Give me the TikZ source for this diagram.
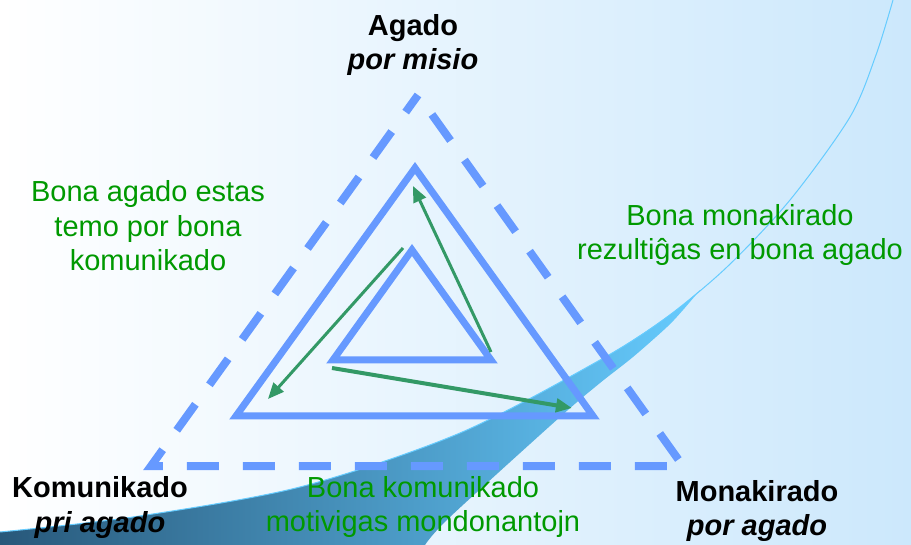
\documentclass[tikz,border=0pt]{standalone}
\usepackage{fontspec}
\setmainfont{Liberation Sans}
\usetikzlibrary{arrows.meta}

\definecolor{triblue}{RGB}{102,153,255}
\definecolor{cyclegreen}{RGB}{51,153,102}
\definecolor{notegreen}{RGB}{0,153,0}
\definecolor{bgblue}{RGB}{204,232,252}
\definecolor{swooshdark}{RGB}{40,88,122}
\definecolor{swooshlight}{RGB}{102,204,255}

\begin{document}
\begin{tikzpicture}[x=0.75pt,y=0.75pt,yscale=-1,xscale=1,
  solidtri/.style={draw=triblue,line width=5.25pt,line join=miter},
  dashtri/.style={draw=triblue,line width=6pt,line join=miter,dash pattern=on 24pt off 18pt,dash phase=8.2pt},
  cyclearrow/.style={draw=cyclegreen,line width=2.25pt,-{Triangle[length=12pt,width=10pt]}},
  corner/.style={font=\bfseries\fontsize{21.75}{26}\selectfont,align=center,inner sep=0pt},
  note/.style={font=\fontsize{21.75}{26}\selectfont,text=notegreen,align=center,inner sep=0pt}]
\useasboundingbox (0,0) rectangle (911,545);

%Shape: Rectangle
\shade [left color=white,right color=bgblue] (0,0) rectangle (911,545);
%Shape: Swoosh
\shade [left color=swooshdark,right color=swooshlight] plot[smooth] coordinates {(0,532) (133,517) (300,487) (460,433) (600,360) (667,317) (700,290)} -- plot[smooth] coordinates {(700,290) (683,310) (667,327) (633,357) (600,383) (560,417) (450,517) (425,545)} -- (0,545) -- cycle ;
%Curve Lines
\draw [color=swooshlight,line width=0.75pt] plot[smooth] coordinates {(0,532) (133,517) (300,487) (460,433) (600,360) (667,317) (727,267) (790,200) (850,117) (876,55) (893,0)} ;

%Shape: Triangle
\draw [dashtri] (418,95) -- (151,466) -- (683,466) -- cycle ;
%Shape: Triangle
\draw [solidtri] (415,168) -- (236,416) -- (593,416) -- cycle ;
%Shape: Triangle
\draw [solidtri] (412,250) -- (333,360) -- (491,360) -- cycle ;

%Straight Lines
\coordinate (monStart) at (491,352) ;
\coordinate (agEnd) at (413,186) ;
\draw [cyclearrow] (monStart) -- (agEnd) ;
%Straight Lines
\coordinate (agStart) at (403,248) ;
\coordinate (komEnd) at (268,399) ;
\draw [cyclearrow] (agStart) -- (komEnd) ;
%Straight Lines
\coordinate (komStart) at (332,368) ;
\coordinate (monEnd) at (572,408) ;
\draw [cyclearrow,line width=3pt] (komStart) -- (monEnd) ;

% Text Node
\draw (413,45) node [corner] (agado) {Agado\\\textit{por misio}};
% Text Node
\draw (100,507.5) node [corner] (komunikado) {Komunikado\\\textit{pri agado}};
% Text Node
\draw (757,511) node [corner] (monakirado) {Monakirado\\\textit{por agado}};
% Text Node
\draw (148,225.7) node [note] (agadoNote) {Bona agado estas\\temo por bona\\komunikado};
% Text Node
\draw (740,235) node [note] (monakiradoNote) {Bona monakirado\\rezultiĝas en bona agado};
% Text Node
\draw (423,507) node [note] (komunikadoNote) {Bona komunikado\\motivigas mondonantojn};

\end{tikzpicture}
\end{document}
